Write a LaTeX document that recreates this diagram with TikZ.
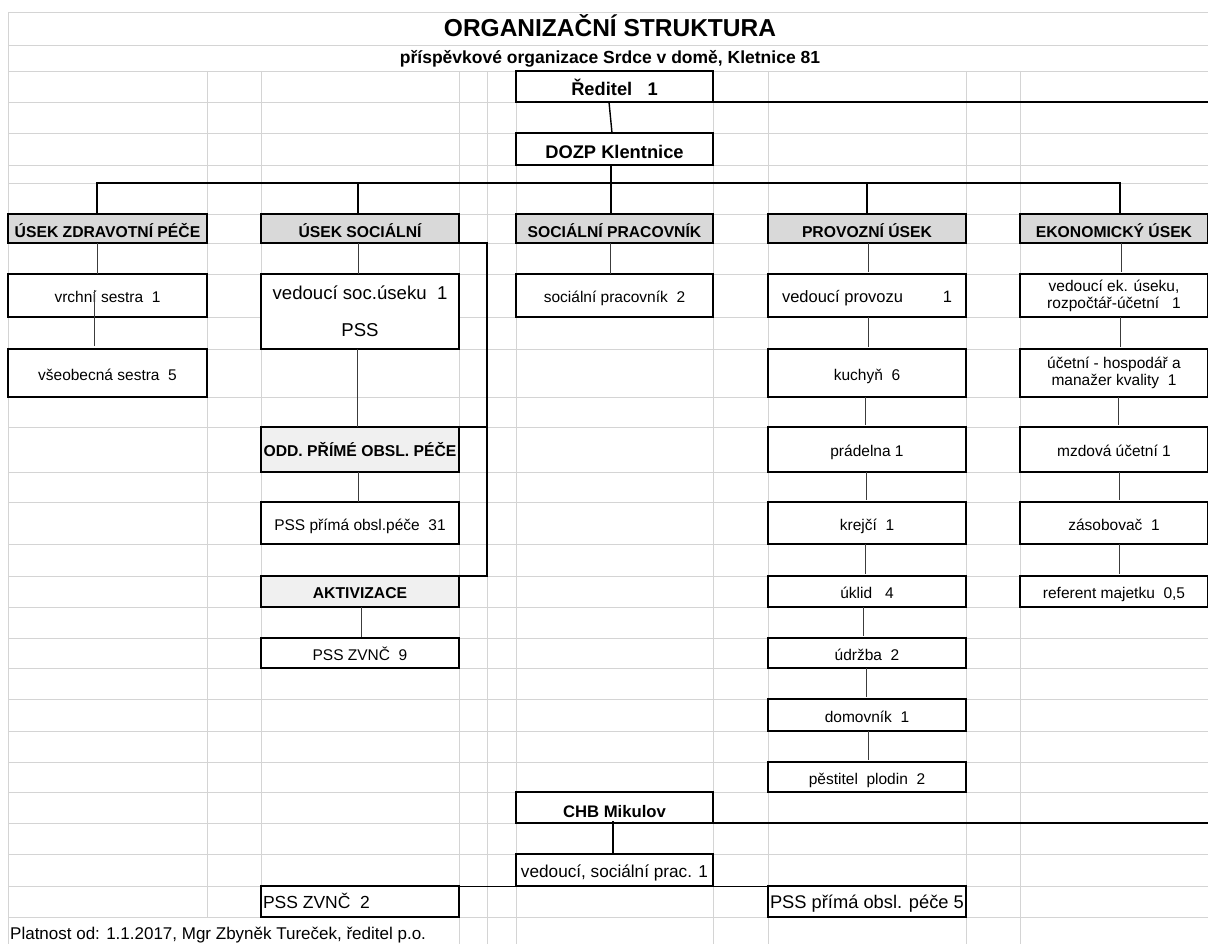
\documentclass[tikz,border=0pt]{standalone}
\usepackage{fontspec}
\setmainfont{Liberation Sans}
\usepackage{xcolor}
\usepackage{tikz}
\usetikzlibrary{positioning,calc}

\definecolor{gridgray}{HTML}{D4D4D4}
\definecolor{headgray}{HTML}{D9D9D9}
\definecolor{subgray}{HTML}{F0F0F0}
\definecolor{linkgray}{HTML}{3C3C3C}

% cell of the sheet: name, style, x1, y1, x2, y2, text (pixel coordinates)
\newcommand{\orgcell}[7]{%
  \node[#2, minimum width={#5-#3}, minimum height={#6-#4}] (#1) at ({(#3+#5)/2},{(#4+#6)/2}) {#7};}

\begin{document}
\begin{tikzpicture}[x=1pt, y=-1pt,
    gridline/.style={draw=gridgray, line width=0.8pt},
    cell/.style={draw, fill=white, line width=1.1pt, inner sep=0pt, outer sep=0pt, align=center,
        font=\fontsize{15.5}{17}\selectfont},
    plaincell/.style={cell, text height=14pt, text depth=0pt},
    bigcell/.style={plaincell, font=\fontsize{17.5}{20}\selectfont},
    headcell/.style={cell, line width=2.4pt, fill=headgray, font=\bfseries\fontsize{15.7}{18}\selectfont,
        text height=19pt, text depth=0pt},
    subcell/.style={headcell, fill=subgray, text height=14.5pt},
    chiefcell/.style={cell, line width=2.4pt, font=\bfseries\fontsize{18.3}{21}\selectfont,
        text height=19pt, text depth=0pt},
    link/.style={draw=linkgray, line width=1pt},
    bus/.style={draw=black, line width=1.8pt},
    brace/.style={draw=black, line width=2.4pt}]

    \useasboundingbox (0,0) rectangle (1208,944);

    % Sheet grid
    \foreach \y in {12,45,71,102,133,165,183,214,243,274,317,349,397,427,472,502,544,576,607,638,668,699,731,762,792,823,854,886,917} {
        \draw[gridline] (8,\y) -- (1208,\y);
    }
    \foreach \x in {207,261,459,487,516,713,768,966,1020} {
        \ifnum\x<262
            \draw[gridline] (\x,71) -- (\x,917);
        \else
            \draw[gridline] (\x,71) -- (\x,944);
        \fi
    }
    \draw[gridline] (8,12) -- (8,944);

    % Title
    \node[font=\bfseries\fontsize{24.5}{28}\selectfont, anchor=base] (title) at (610,37) {ORGANIZAČNÍ STRUKTURA};
    \node[font=\bfseries\fontsize{17.5}{20}\selectfont, anchor=base] (subtitle) at (610,64) {příspěvkové organizace Srdce v domě, Kletnice 81};

    % Management
    \orgcell{reditel}{chiefcell}{516}{71}{713}{102}{Ředitel\ \ \ 1}
    \orgcell{dozp}{chiefcell}{516}{133}{713}{165}{DOZP Klentnice}

    % Sections
    \orgcell{hzdrav}{headcell}{8}{214}{207}{243}{ÚSEK ZDRAVOTNÍ PÉČE}
    \orgcell{hsoc}{headcell}{261}{214}{459}{243}{ÚSEK SOCIÁLNÍ}
    \orgcell{hsocprac}{headcell}{516}{214}{713}{243}{SOCIÁLNÍ PRACOVNÍK}
    \orgcell{hprov}{headcell}{768}{214}{966}{243}{PROVOZNÍ ÚSEK}
    \orgcell{hekon}{headcell}{1020}{214}{1208}{243}{EKONOMICKÝ ÚSEK}

    % Health care
    \orgcell{vrchni}{plaincell}{8}{274}{207}{317}{vrchní sestra\ \ 1}
    \orgcell{vseob}{plaincell}{8}{349}{207}{397}{všeobecná sestra\ \ 5}

    % Social section
    \orgcell{vedsoc}{cell, font=\fontsize{18.6}{37}\selectfont}{261}{274}{459}{349}{vedoucí soc.úseku\ \ 1\\PSS}
    \orgcell{odd}{subcell}{261}{427}{459}{472}{ODD. PŘÍMÉ OBSL. PÉČE}
    \orgcell{pss31}{plaincell}{261}{502}{459}{544}{PSS přímá obsl.péče\ \ 31}
    \orgcell{aktiv}{subcell}{261}{576}{459}{607}{AKTIVIZACE}
    \orgcell{zvnc9}{plaincell}{261}{638}{459}{668}{PSS ZVNČ\ \ 9}

    % Social worker
    \orgcell{socprac}{plaincell}{516}{274}{713}{317}{sociální pracovník\ \ 2}

    % Operations
    \orgcell{vedprov}{plaincell, font=\fontsize{16.5}{19}\selectfont}{768}{274}{966}{317}{\makebox[170pt]{vedoucí provozu\hfill 1}}
    \orgcell{kuchyn}{plaincell}{768}{349}{966}{397}{kuchyň\ \ 6}
    \orgcell{pradelna}{plaincell}{768}{427}{966}{472}{prádelna 1}
    \orgcell{krejci}{plaincell}{768}{502}{966}{544}{krejčí\ \ 1}
    \orgcell{uklid}{plaincell}{768}{576}{966}{607}{úklid\ \ \ 4}
    \orgcell{udrzba}{plaincell}{768}{638}{966}{668}{údržba\ \ 2}
    \orgcell{domovnik}{plaincell}{768}{699}{966}{731}{domovník\ \ 1}
    \orgcell{pestitel}{plaincell}{768}{762}{966}{792}{pěstitel\ \ plodin\ \ 2}

    % Economy
    \orgcell{vedek}{cell}{1020}{274}{1208}{317}{vedoucí ek. úseku,\\rozpočtář-účetní\ \ \ 1}
    \orgcell{ucetni}{cell}{1020}{349}{1208}{397}{účetní - hospodář a\\manažer kvality\ \ 1}
    \orgcell{mzdova}{plaincell}{1020}{427}{1208}{472}{mzdová účetní 1}
    \orgcell{zasob}{plaincell}{1020}{502}{1208}{544}{zásobovač\ \ 1}
    \orgcell{referent}{plaincell}{1020}{576}{1208}{607}{referent majetku\ \ 0,5}

    % CHB Mikulov
    \orgcell{chb}{chiefcell, font=\bfseries\fontsize{16.7}{20}\selectfont}{516}{792}{713}{823}{CHB Mikulov}
    \orgcell{vedchb}{bigcell, line width=2.4pt, font=\fontsize{17.2}{20}\selectfont}{516}{854}{713}{886}{vedoucí, sociální prac. 1}
    \orgcell{zvnc2}{bigcell}{261}{886}{459}{917}{\makebox[194pt][l]{PSS ZVNČ\ \ 2}}
    \orgcell{pss5}{bigcell, font=\fontsize{18.3}{21}\selectfont}{768}{886}{966}{917}{\makebox[194pt][l]{PSS přímá obsl. péče 5}}

    % Footer
    \node[font=\fontsize{17}{20}\selectfont, anchor=base west, inner sep=0pt] (footer) at (10,939) {Platnost od: 1.1.2017, Mgr Zbyněk Tureček, ředitel p.o.};

    % Top links
    \coordinate (busL) at (97,183);
    \coordinate (busR) at (1120,183);
    \coordinate (brk) at (487,0);
    \coordinate (rim) at (1208,0);
    \draw[link, black, line width=1.4pt] ([xshift=-5.5pt]reditel.south) -- ([xshift=-2.5pt]dozp.north);
    \draw[brace] (reditel.south east) -- (reditel.south -| rim);
    \draw[bus] ([xshift=-3.5pt]dozp.south) -- ([xshift=-3.5pt]hsocprac.north);
    \draw[bus] (hzdrav.north -| busL) -- (busL) -- (busR) -- (hekon.north -| busR);
    \draw[bus] ([xshift=-2pt]hsoc.north) -- ([xshift=-2pt]hsoc.north |- busL);
    \draw[bus] (hprov.north) -- (hprov.north |- busL);

    % Section links
    \draw[link] ([xshift=-10.5pt]hzdrav.south) -- ([xshift=-10.5pt]vrchni.north);
    \draw[link] ([xshift=-13.5pt,yshift=27pt]vrchni.south) -- ([xshift=-13.5pt,yshift=3pt]vseob.north);
    \draw[link] ([xshift=-2pt]hsoc.south) -- ([xshift=-2pt]vedsoc.north);
    \draw[link] ([xshift=-3pt]vedsoc.south) -- ([xshift=-3pt]odd.north);
    \draw[link] ([xshift=-2pt]odd.south) -- ([xshift=-2pt]pss31.north);
    \draw[link] ([xshift=1pt]aktiv.south) -- ([xshift=1pt,yshift=1pt]zvnc9.north);
    \draw[link] ([xshift=-4.5pt]hsocprac.south) -- ([xshift=-4.5pt]socprac.north);
    \foreach \a/\b/\s in {hprov/vedprov/1, vedprov/kuchyn/1, kuchyn/pradelna/-2, pradelna/krejci/-1,
                          krejci/uklid/-2, uklid/udrzba/-4, udrzba/domovnik/-1, domovnik/pestitel/1} {
        \draw[link] ([xshift=\s pt]\a.south) -- ([xshift=\s pt,yshift=2pt]\b.north);
    }
    \foreach \a/\b/\s in {hekon/vedek/7, vedek/ucetni/6, ucetni/mzdova/4, mzdova/zasob/5, zasob/referent/5} {
        \draw[link] ([xshift=\s pt]\a.south) -- ([xshift=\s pt,yshift=2pt]\b.north);
    }

    % Bracket of the social section
    \draw[brace] (hsoc.south east) -| (aktiv.north -| brk) -- (aktiv.north east);
    \draw[brace] (odd.north east) -- (odd.north -| brk);

    % CHB links
    \draw[brace] (chb.south east) -- (chb.south -| rim);
    \draw[bus] ([xshift=-1.5pt,yshift=2pt]chb.south) -- ([xshift=-1.5pt]vedchb.north);
    \draw[link, black] (zvnc2.north east) -- (pss5.north west);
\end{tikzpicture}
\end{document}
